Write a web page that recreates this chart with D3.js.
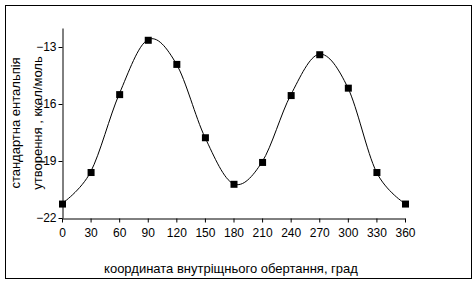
<!DOCTYPE html>
<html>
<head>
<meta charset="utf-8">
<script src="https://cdn.jsdelivr.net/npm/d3@7"></script>
<style>
  body { margin: 0; background: #fff; }
  text { font-family: "Liberation Sans", Arial, sans-serif; font-size: 12px; fill: #000; }
</style>
</head>
<body>
<svg></svg>
<script>
const angles = [0, 30, 60, 90, 120, 150, 180, 210, 240, 270, 300, 330, 360];
const enthalpy = [-21.24, -19.58, -15.48, -12.62, -13.89, -17.75, -20.2, -19.05, -15.53, -13.38, -15.14, -19.58, -21.24];
const yTicks = [-22, -19, -16, -13];
const xTicks = [0, 30, 60, 90, 120, 150, 180, 210, 240, 270, 300, 330, 360];

const size = {w: 476, h: 283};
const plot = {l: 62, r: 405, t: 28, b: 218};
const svg = d3.select('svg')
    .attr('width', size.w)
    .attr('height', size.h);

// outer chart frame
svg.append('rect')
    .attr('x', 5.5).attr('y', 5.5)
    .attr('width', 466).attr('height', 273)
    .attr('fill', 'none')
    .attr('stroke', '#000');

const x = d3.scaleLinear().domain([0, 360]).range([plot.l, plot.r]);
const y = d3.scaleLinear().domain([-22, -12]).range([plot.b, plot.t]);

let xAxis = svg.append('g')
    .attr('transform', 'translate(0,' + (plot.b + 0.5) + ')')
    .call(d3.axisBottom(x).tickValues(xTicks).tickSize(4).tickSizeOuter(0).tickPadding(6));
let yAxis = svg.append('g')
    .attr('transform', 'translate(' + (plot.l + 0.5) + ',0)')
    .call(d3.axisLeft(y).tickValues(yTicks).tickSize(4).tickSizeOuter(0).tickPadding(2));

[xAxis, yAxis].forEach(function (a) {
    a.selectAll('path, line').attr('stroke', '#000');
    a.selectAll('text')
        .style('font-family', '"Liberation Sans", Arial, sans-serif')
        .style('font-size', '12px')
        .attr('fill', '#000');
});

// smoothed line like the spreadsheet one
const line = d3.line()
    .x((d, i) => x(angles[i]))
    .y(d => y(d))
    .curve(d3.curveCatmullRom.alpha(0));

svg.append('path')
    .datum(enthalpy)
    .attr('d', line)
    .attr('fill', 'none')
    .attr('stroke', '#000')
    .attr('stroke-width', 1);

svg.selectAll('rect.pt')
    .data(enthalpy)
    .enter()
    .append('rect')
    .classed('pt', true)
    .attr('x', (d, i) => x(angles[i]) - 3)
    .attr('y', d => y(d) - 3)
    .attr('width', 7)
    .attr('height', 7)
    .attr('fill', '#000');

// axis titles
svg.append('text')
    .attr('x', 231)
    .attr('y', 273)
    .attr('text-anchor', 'middle')
    .style('font-size', '13px')
    .text('координата внутріщнього обертання, град');

let yt = svg.append('text')
    .attr('transform', 'translate(20,123) rotate(-90)')
    .attr('text-anchor', 'middle')
    .style('font-size', '13px');
yt.append('tspan').attr('x', 0).attr('dy', 0).text('стандартна ентальпія');
yt.append('tspan').attr('x', 0).attr('dy', 22).text('утворення , ккал/моль');
</script>
</body>
</html>
